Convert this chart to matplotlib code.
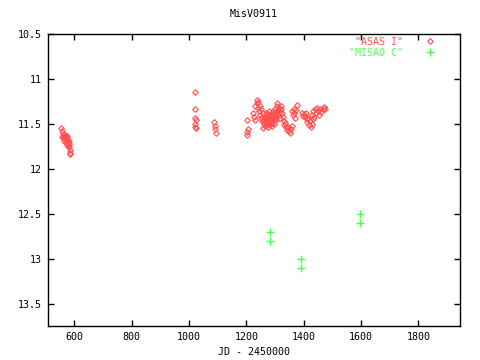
import matplotlib
matplotlib.use("Agg")
import matplotlib.pyplot as plt

# ASAS I photometry (JD - 2450000, magnitude)
asas_jd = [555, 557, 559, 561, 558, 563, 566, 568, 570, 572, 574, 576, 578, 580,
           579, 582, 583, 585, 584, 586, 575, 565,
           1022, 1022, 1022, 1023, 1021, 1022, 1023,
           1088, 1090, 1092, 1095,
           1203, 1207, 1201, 1204, 1224, 1226, 1229, 1232, 1236, 1238, 1240, 1242,
           1244, 1246, 1248, 1250, 1252, 1255, 1257, 1259, 1262, 1264, 1266, 1268,
           1270, 1272, 1274, 1276, 1278, 1280, 1282, 1284, 1286, 1288, 1290, 1292,
           1294, 1296, 1298, 1300, 1302, 1304, 1306, 1308, 1310, 1312, 1314, 1316,
           1318, 1320, 1322, 1325, 1328, 1330, 1333, 1336, 1339, 1342, 1345, 1348,
           1352, 1356, 1360, 1358, 1362, 1365, 1368, 1371, 1374, 1376,
           1263, 1267, 1271, 1275, 1279, 1283, 1287, 1291, 1295, 1299, 1303,
           1265, 1273, 1281, 1289, 1297, 1305,
           1393, 1397, 1401, 1405, 1408, 1410, 1413, 1416, 1419, 1422, 1425, 1428,
           1431, 1429, 1433, 1437, 1440, 1444, 1447, 1450, 1454, 1458, 1462, 1466,
           1470, 1473]
asas_mag = [11.55, 11.58, 11.61, 11.63, 11.65, 11.66, 11.62, 11.65, 11.68, 11.70,
            11.66, 11.64, 11.68, 11.72, 11.75, 11.70, 11.76, 11.79, 11.82, 11.84,
            11.73, 11.69,
            11.15, 11.34, 11.43, 11.46, 11.50, 11.53, 11.55,
            11.48, 11.52, 11.56, 11.60,
            11.46, 11.56, 11.62, 11.59, 11.38, 11.42, 11.46, 11.30, 11.23, 11.27,
            11.32, 11.26, 11.36, 11.30, 11.40, 11.34, 11.44, 11.47, 11.38, 11.55,
            11.50, 11.42, 11.52, 11.45, 11.38, 11.48, 11.41, 11.53, 11.45, 11.36,
            11.50, 11.43, 11.39, 11.47, 11.41, 11.36, 11.44, 11.50, 11.38, 11.33,
            11.42, 11.46, 11.30, 11.27, 11.35, 11.40, 11.32, 11.37, 11.43, 11.34,
            11.30, 11.38, 11.42, 11.47, 11.51, 11.49, 11.54, 11.57, 11.53, 11.58,
            11.60, 11.56, 11.52, 11.36, 11.40, 11.33, 11.38, 11.44, 11.35, 11.29,
            11.46, 11.40, 11.44, 11.39, 11.48, 11.46, 11.43, 11.49, 11.40, 11.45, 11.39,
            11.48, 11.51, 11.42, 11.52, 11.45, 11.38,
            11.38, 11.41, 11.39, 11.42, 11.38, 11.45, 11.48, 11.43, 11.51, 11.47,
            11.54, 11.50, 11.45, 11.40, 11.36, 11.42, 11.34, 11.38, 11.32, 11.36,
            11.40, 11.33, 11.37, 11.34, 11.31, 11.33]

# MISAO C photometry
misao_jd = [1284, 1284, 1392, 1392, 1598, 1598]
misao_mag = [12.70, 12.80, 13.00, 13.10, 12.50, 12.60]

xticks = [600, 800, 1000, 1200, 1400, 1600, 1800]
yticks = [10.5, 11, 11.5, 12, 12.5, 13, 13.5]
ytick_labels = ["10.5", "11", "11.5", "12", "12.5", "13", "13.5"]

red = "#ff5050"
green = "#50ff50"
fs = 7.2
plt.rcParams["font.family"] = ["DejaVu Sans Mono"]

fig = plt.figure(figsize=(4.8, 3.6), dpi=100)
ax = fig.add_axes([0.099, 0.0944, 0.86, 0.8112])

ax.plot(asas_jd, asas_mag, linestyle="none", marker="D", markersize=2.9,
        markerfacecolor="none", markeredgecolor=red, markeredgewidth=0.8,
        label='"ASAS I"')
ax.plot(misao_jd, misao_mag, linestyle="none", marker="+", markersize=5.5,
        markeredgecolor=green, markeredgewidth=1.0, label='"MISAO C"')

ax.set_xlim(506.5, 1946.5)
ax.set_ylim(13.75, 10.5)
ax.set_xticks(xticks)
ax.set_yticks(yticks)
ax.set_yticklabels(ytick_labels)
ax.tick_params(direction="in", length=4, width=1, top=True, right=True,
               labelsize=fs, pad=4)
for s in ax.spines.values():
    s.set_linewidth(1)

ax.set_title("MisV0911", fontsize=fs, pad=12)
ax.set_xlabel("JD - 2450000", fontsize=fs, labelpad=4)

leg = ax.legend(loc="upper right", bbox_to_anchor=(0.958, 1.018), frameon=False,
                markerfirst=False, fontsize=fs, handlelength=1.0,
                handletextpad=2.2, labelspacing=0.12, borderpad=0.3)
for t, c in zip(leg.get_texts(), [red, green]):
    t.set_color(c)

fig.savefig("out.png", dpi=100)
